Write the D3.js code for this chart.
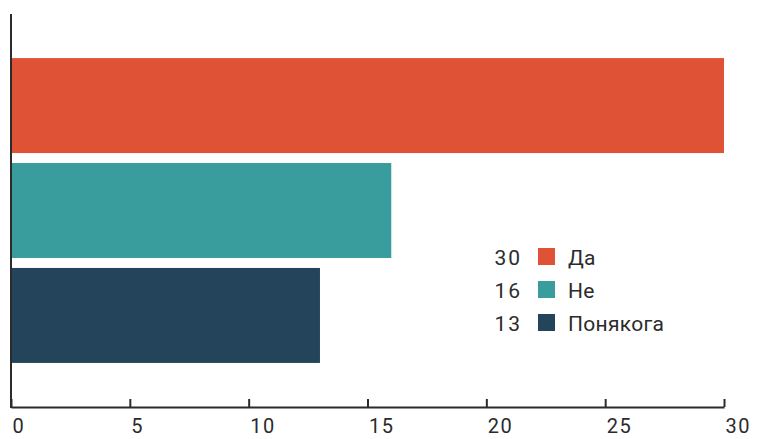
<!DOCTYPE html>
<html>
<head>
<meta charset="utf-8">
<script src="https://cdn.jsdelivr.net/npm/d3@7"></script>
<style>
  html, body { margin: 0; padding: 0; background: #ffffff; }
  svg { display: block; }
  text { font-family: Roboto, "Open Sans", sans-serif; fill: #2b2b2b; }
</style>
</head>
<body>
<div id="chart"></div>
<script>
const categories = ["Да", "Не", "Понякога"];
const values = [30, 16, 13];
const colors = ["#E05236", "#399D9E", "#23445A"];
const tickValues = [0, 5, 10, 15, 20, 25, 30];

const W = 757, H = 439;
const x0 = 11, x1 = 724, yTop = 14, yBottom = 407;

const svg = d3.select("#chart").append("svg")
  .attr("width", W).attr("height", H);

const x = d3.scaleLinear().domain([0, 30]).range([x0, x1]);
const y = d3.scaleBand().domain(categories).range([yTop, yBottom])
  .paddingInner(0.095).paddingOuter(0.42);

// bars
svg.selectAll("rect.bar").data(categories).enter().append("rect")
  .attr("class", "bar")
  .attr("x", x(0))
  .attr("y", d => y(d))
  .attr("width", (d, i) => x(values[i]) - x(0))
  .attr("height", y.bandwidth())
  .attr("fill", (d, i) => colors[i]);

// x axis
const xAxis = d3.axisBottom(x).tickValues(tickValues).tickSize(-8).tickSizeOuter(0).tickFormat(d3.format("d"));
const gx = svg.append("g").attr("transform", `translate(0,${yBottom})`).call(xAxis);
gx.select(".domain").attr("stroke", "#2b2b2b").attr("stroke-width", 2);
gx.selectAll(".tick line").attr("stroke", "#2b2b2b").attr("stroke-width", 2);
gx.selectAll(".tick text")
  .attr("text-anchor", "start")
  .attr("x", 1)
  .attr("y", 26)
  .attr("dy", 0)
  .style("font-size", "20px")
  .style("letter-spacing", "1.5px")
  .style("font-family", "Roboto, sans-serif")
  .attr("fill", "#2b2b2b");

// y axis line
svg.append("line")
  .attr("x1", x0).attr("x2", x0)
  .attr("y1", yTop).attr("y2", yBottom + 1)
  .attr("stroke", "#2b2b2b").attr("stroke-width", 2);

// legend
const legend = svg.append("g");
const rowY = d3.scalePoint().domain(categories).range([248, 314]);
const rows = legend.selectAll("g").data(categories).enter().append("g")
  .attr("transform", d => `translate(0,${rowY(d)})`);
rows.append("text")
  .attr("x", 522).attr("y", 17)
  .attr("text-anchor", "end")
  .style("font-size", "21px")
  .style("letter-spacing", "2px")
  .text((d, i) => values[i]);
rows.append("rect")
  .attr("x", 538).attr("y", 0)
  .attr("width", 17).attr("height", 17)
  .attr("fill", (d, i) => colors[i]);
rows.append("text")
  .attr("x", 568).attr("y", 17)
  .style("font-size", "21px")
  .style("letter-spacing", "0.3px")
  .text(d => d);
</script>
</body>
</html>
